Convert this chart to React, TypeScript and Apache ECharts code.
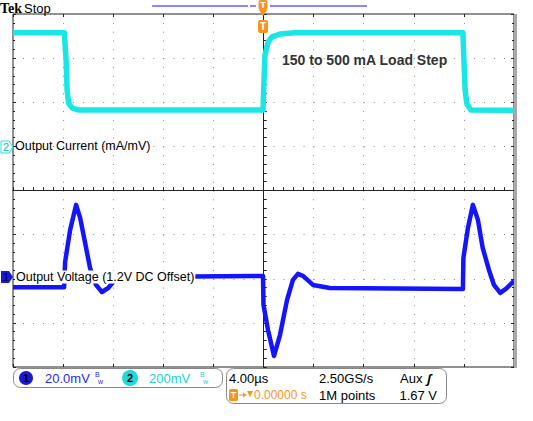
import React, { useEffect, useRef } from "react";
import * as echarts from "echarts";

// ---- Data (time in µs, 4 µs/div, trigger at 0) ----
const ch2TimeUs = [-20, -15.9, -15.76, -15.68, -15.56, -15.28, -14.8, -0.04, 0.04, 0.12, 0.36, 0.68, 1.32, 2.5, 15.92, 16.0, 16.1, 16.24, 16.56, 20];
const ch2CurrentMa = [500, 500, 376, 240, 181, 159, 150, 150, 286, 399, 458, 481, 494, 500, 500, 376, 240, 177, 150, 148];

const ch1TimeUs = [-20, -15.92, -15.84, -15.44, -14.96, -14.64, -14.24, -13.85, -13.37, -12.9, -12.4, -11.85, -11.05, -0.04, 0.0, 0.36, 0.84, 1.32, 1.88, 2.35, 2.75, 3.15, 3.95, 5.3, 15.92, 15.96, 16.32, 16.72, 17.12, 17.5, 18.0, 18.4, 18.9, 19.35, 20];
const ch1DeviationMv = [-4.5, -4.5, 7.0, 21.5, 32.9, 27, 15.6, 4.3, -3.4, -6.6, -4.8, -1.1, 0.2, 0.7, -12.5, -23.8, -35.6, -26, -10.2, -1.1, 1.6, 0.7, -3.4, -4.8, -5.2, 8.8, 22.4, 32.9, 26.1, 13.4, 3.4, -3.4, -7.0, -5.2, -1.6];

const ch1MvPerDiv = 20;
const ch2MaPerDiv = 200;
const ch1OffsetDiv = -1.97;
const ch2OffsetDiv = 1.075;

const timeTicks = { min: -20, max: 20, interval: 4 };
const divTicks = { min: -4, max: 4, interval: 1 };

const CYAN = "#19e6e6";
const BLUE = "#1414ff";
const ORANGE = "#f7941d";
const DARK = "#222";
const FONT = "Liberation Sans, Arial, sans-serif";

export default function App() {
  const ref = useRef<HTMLDivElement>(null);
  useEffect(() => {
    if (!ref.current) return;
    const chart = echarts.init(ref.current, undefined, { renderer: "svg" });

    const cyanData = ch2TimeUs.map((t, i) => [t, ch2OffsetDiv + ch2CurrentMa[i] / ch2MaPerDiv]);
    const blueData = ch1TimeUs.map((t, i) => [t, ch1OffsetDiv + ch1DeviationMv[i] / ch1MvPerDiv]);

    const off = { show: false };
    const xBase: any = {
      type: "value", ...timeTicks,
      axisLabel: off, splitLine: off, axisLine: { show: false, onZero: false }, axisTick: off, minorTick: off,
    };
    const yBase: any = {
      type: "value", ...divTicks,
      axisLabel: off, splitLine: off, axisLine: { show: false, onZero: false }, axisTick: off, minorTick: off,
    };
    const tickStyle = { color: DARK, width: 1 };

    const graphic: any[] = [
      // right gray bar
      { type: "rect", z: 50, shape: { x: 514, y: 14, width: 3, height: 354 }, style: { fill: "#a8a8a8" } },
      // header
      { type: "text", z: 50, x: 0, y: 8, style: { text: "Tek", font: "bold 14px Liberation Serif, serif", fill: "#000", verticalAlign: "middle" } },
      { type: "text", z: 50, x: 24, y: 8, style: { text: "Stop", font: `13px ${FONT}`, fill: "#000", verticalAlign: "middle" } },
      { type: "line", z: 50, shape: { x1: 152, y1: 6, x2: 248, y2: 6 }, style: { stroke: BLUE, lineWidth: 1 } },
      { type: "line", z: 50, shape: { x1: 250, y1: 6, x2: 256, y2: 6 }, style: { stroke: BLUE, lineWidth: 1 } },
      { type: "line", z: 50, shape: { x1: 270, y1: 6, x2: 367, y2: 6 }, style: { stroke: BLUE, lineWidth: 1 } },
      { type: "rect", z: 51, shape: { x: 258.5, y: 0, width: 9, height: 10, r: 2 }, style: { fill: ORANGE } },
      { type: "text", z: 52, x: 263, y: 5, style: { text: "T", font: `bold 9px ${FONT}`, fill: "#fff", align: "center", verticalAlign: "middle" } },
      { type: "polygon", z: 51, shape: { points: [[259, 10], [267, 10], [263, 16]] }, style: { fill: ORANGE } },
      { type: "rect", z: 51, shape: { x: 258, y: 20, width: 10, height: 13, r: 2 }, style: { fill: ORANGE } },
      { type: "text", z: 52, x: 263, y: 26.5, style: { text: "T", font: `bold 10px ${FONT}`, fill: "#fff", align: "center", verticalAlign: "middle" } },
      // annotation
      { type: "text", z: 50, x: 282, y: 60, style: { text: "150 to 500 mA Load Step", font: `bold 14px ${FONT}`, fill: "#333", verticalAlign: "middle" } },
      // channel markers
      { type: "polygon", z: 51, shape: { points: [[1, 141], [9, 141], [13, 147], [9, 153], [1, 153]] }, style: { fill: "#fff", stroke: CYAN, lineWidth: 1 } },
      { type: "text", z: 52, x: 6, y: 147, style: { text: "2", font: `11px ${FONT}`, fill: "#11bcbc", align: "center", verticalAlign: "middle" } },
      { type: "polygon", z: 51, shape: { points: [[1, 271], [9, 271], [13, 277], [9, 283], [1, 283]] }, style: { fill: "#1a1ad6" } },
      { type: "text", z: 52, x: 6, y: 277, style: { text: "1", font: `11px ${FONT}`, fill: "#000033", align: "center", verticalAlign: "middle" } },
      { type: "text", z: 50, x: 15, y: 146, style: { text: "Output Current (mA/mV)", font: `12.5px ${FONT}`, fill: "#000", verticalAlign: "middle" } },
      { type: "text", z: 50, x: 15, y: 277, style: { text: "Output Voltage (1.2V DC Offset)", font: `12.5px ${FONT}`, fill: "#000", verticalAlign: "middle", backgroundColor: "#fff", padding: [0, 1, 0, 1] } },
      // bottom bar 1
      { type: "rect", z: 50, shape: { x: 13.5, y: 368.5, width: 209, height: 19, r: 7 }, style: { fill: "#fff", stroke: "#888", lineWidth: 1 } },
      { type: "circle", z: 51, shape: { cx: 26, cy: 378, r: 7 }, style: { fill: "#1a1ad6" } },
      { type: "text", z: 52, x: 26, y: 378, style: { text: "1", font: `bold 11px ${FONT}`, fill: "#000", align: "center", verticalAlign: "middle" } },
      { type: "text", z: 51, x: 45, y: 378, style: { text: "20.0mV", font: `13px ${FONT}`, fill: "#2a2aee", verticalAlign: "middle" } },
      { type: "text", z: 51, x: 95, y: 374, style: { text: "B", font: `7px ${FONT}`, fill: "#2a2aee", verticalAlign: "middle" } },
      { type: "text", z: 51, x: 98, y: 381, style: { text: "w", font: `7px ${FONT}`, fill: "#2a2aee", verticalAlign: "middle" } },
      { type: "circle", z: 51, shape: { cx: 130, cy: 378, r: 8 }, style: { fill: "#20d8d8" } },
      { type: "text", z: 52, x: 130, y: 378, style: { text: "2", font: `bold 11px ${FONT}`, fill: "#000", align: "center", verticalAlign: "middle" } },
      { type: "text", z: 51, x: 149, y: 378, style: { text: "200mV", font: `13px ${FONT}`, fill: "#22d2d2", verticalAlign: "middle" } },
      { type: "text", z: 51, x: 200, y: 374, style: { text: "B", font: `7px ${FONT}`, fill: "#22d2d2", verticalAlign: "middle" } },
      { type: "text", z: 51, x: 203, y: 381, style: { text: "w", font: `7px ${FONT}`, fill: "#22d2d2", verticalAlign: "middle" } },
      // bottom bar 2
      { type: "rect", z: 50, shape: { x: 226.5, y: 368.5, width: 220, height: 35, r: 7 }, style: { fill: "#fff", stroke: "#888", lineWidth: 1 } },
      { type: "text", z: 51, x: 229, y: 378, style: { text: "4.00µs", font: `13px ${FONT}`, fill: "#000", verticalAlign: "middle" } },
      { type: "text", z: 51, x: 319, y: 378, style: { text: "2.50GS/s", font: `13px ${FONT}`, fill: "#000", verticalAlign: "middle" } },
      { type: "text", z: 51, x: 400, y: 378, style: { text: "Aux", font: `13px ${FONT}`, fill: "#000", verticalAlign: "middle" } },
      { type: "text", z: 51, x: 427, y: 378, style: { text: "ʃ", font: `italic bold 13px ${FONT}`, fill: "#000", verticalAlign: "middle" } },
      { type: "rect", z: 51, shape: { x: 229, y: 389, width: 9, height: 12, r: 1.5 }, style: { fill: ORANGE } },
      { type: "text", z: 52, x: 233.5, y: 395, style: { text: "T", font: `bold 9px ${FONT}`, fill: "#fff", align: "center", verticalAlign: "middle" } },
      { type: "line", z: 51, shape: { x1: 239, y1: 395, x2: 244, y2: 395 }, style: { stroke: ORANGE, lineWidth: 1 } },
      { type: "polygon", z: 51, shape: { points: [[243, 392.5], [246.5, 395], [243, 397.5]] }, style: { fill: ORANGE } },
      { type: "polygon", z: 51, shape: { points: [[247, 391], [253, 391], [250, 397]] }, style: { fill: ORANGE } },
      { type: "text", z: 51, x: 254, y: 395, style: { text: "0.00000 s", font: `12px ${FONT}`, fill: ORANGE, verticalAlign: "middle" } },
      { type: "text", z: 51, x: 319, y: 395, style: { text: "1M points", font: `13px ${FONT}`, fill: "#000", verticalAlign: "middle" } },
      { type: "text", z: 51, x: 437, y: 395, style: { text: "1.67 V", font: `13px ${FONT}`, fill: "#000", align: "right", verticalAlign: "middle" } },
    ];

    chart.setOption({
      animation: false,
      backgroundColor: "#fff",
      grid: { left: 13, top: 14, width: 501, height: 353, show: true, borderColor: DARK, borderWidth: 1, backgroundColor: "transparent" },
      xAxis: [
        {
          ...xBase,
          axisLine: { show: true, onZero: true, onZeroAxisIndex: 0, lineStyle: tickStyle },
          axisTick: { show: true, inside: true, length: 3, lineStyle: tickStyle },
          minorTick: { show: true, splitNumber: 5, length: 3, lineStyle: tickStyle },
          splitLine: { show: true, lineStyle: { color: "#8c8c8c", width: 1, type: [1, 7.825] } },
        },
        {
          ...xBase,
          axisLine: { show: false, onZero: true, onZeroAxisIndex: 0 },
          axisTick: { show: true, inside: false, length: 3, lineStyle: tickStyle },
          minorTick: { show: true, splitNumber: 5, length: 3, lineStyle: tickStyle },
        },
        { ...xBase, position: "top", axisTick: { show: true, inside: true, length: 3, lineStyle: tickStyle } },
        { ...xBase, position: "bottom", axisTick: { show: true, inside: true, length: 3, lineStyle: tickStyle } },
      ],
      yAxis: [
        {
          ...yBase,
          axisLine: { show: true, onZero: true, onZeroAxisIndex: 0, lineStyle: tickStyle },
          axisTick: { show: true, inside: true, length: 3, lineStyle: tickStyle },
          minorTick: { show: true, splitNumber: 5, length: 3, lineStyle: tickStyle },
          splitLine: { show: true, lineStyle: { color: "#8c8c8c", width: 1, type: [1, 9.02] } },
        },
        {
          ...yBase,
          axisLine: { show: false, onZero: true, onZeroAxisIndex: 0 },
          axisTick: { show: true, inside: false, length: 3, lineStyle: tickStyle },
          minorTick: { show: true, splitNumber: 5, length: 3, lineStyle: tickStyle },
        },
        {
          ...yBase, position: "left",
          axisTick: { show: true, inside: true, length: 3, lineStyle: tickStyle },
          minorTick: { show: true, splitNumber: 5, length: 2, lineStyle: tickStyle },
        },
        {
          ...yBase, position: "right",
          axisTick: { show: true, inside: true, length: 3, lineStyle: tickStyle },
          minorTick: { show: true, splitNumber: 5, length: 2, lineStyle: tickStyle },
        },
      ],
      series: [
        {
          name: "Output Current", type: "line", xAxisIndex: 0, yAxisIndex: 0, data: cyanData,
          symbol: "none", z: 3, lineStyle: { color: CYAN, width: 5.5, join: "round" },
        },
        {
          name: "Output Voltage", type: "line", xAxisIndex: 0, yAxisIndex: 0, data: blueData,
          symbol: "none", z: 4, lineStyle: { color: BLUE, width: 4.5, join: "round" },
        },
      ],
      graphic,
    });
    return () => chart.dispose();
  }, []);
  return <div ref={ref} style={{ position: "fixed", left: 0, top: 0, width: 533, height: 421, background: "#fff" }} />;
}
